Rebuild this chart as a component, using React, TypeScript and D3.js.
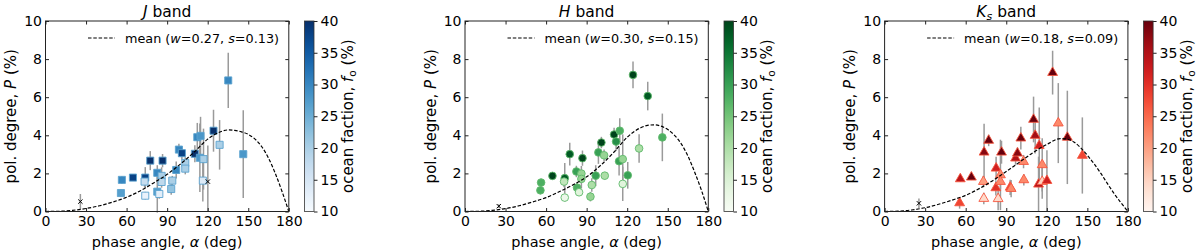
import React, { useEffect, useRef } from "react";
import * as d3 from "d3";

// J band (squares)
const jAngle = [56.5, 55.8, 64.7, 73.8, 73.3, 73.8, 77.5, 82.7, 82.7, 84.2, 85.9, 85.9, 86.6, 93.0, 93.8, 96.7, 98.7, 100.9, 103.4, 103.4, 110.5, 112.3, 114.7, 114.2, 116.9, 116.4, 124.3, 128.8, 135.2, 146.3];
const jPol = [1.66, 0.97, 1.78, 1.78, 1.57, 0.83, 2.67, 2.03, 1.04, 0.92, 1.87, 1.55, 2.67, 1.18, 1.62, 2.18, 3.25, 3.06, 2.55, 2.25, 3.03, 3.9, 3.97, 2.82, 2.75, 1.62, 4.24, 3.5, 6.88, 3.01];
const jErr = [0.2, 0.2, 0.15, 0.55, 0.3, 0.2, 0.5, 0.4, 1.1, 0.25, 0.45, 0.3, 0.35, 0.3, 0.25, 0.45, 0.3, 0.35, 0.3, 0.3, 0.45, 0.75, 1.0, 1.8, 1.6, 1.1, 1.1, 1.3, 1.45, 2.3];
const jOcean = [30, 27, 38, 38, 17, 12, 40, 30, 27, 13, 20, 18, 40, 22, 20, 30, 30, 38, 20, 20, 40, 30, 28, 28, 20, 14, 40, 20, 30, 28];
const jCrossAngle = [25.8, 120.1];
const jCrossPol = [0.52, 1.57];
const jCrossErr = [0.4, 1.9];

// H band (circles)
const hAngle = [56.3, 55.8, 64.7, 73.8, 73.3, 73.8, 77.5, 82.4, 82.9, 84.4, 86.1, 86.1, 86.9, 92.8, 93.8, 96.7, 98.7, 100.9, 102.9, 103.4, 110.3, 111.8, 114.5, 114.0, 116.7, 116.7, 120.4, 124.3, 128.8, 135.2, 146.0];
const hPol = [1.52, 1.11, 1.87, 1.75, 1.57, 0.73, 3.01, 2.1, 1.25, 1.01, 1.99, 1.71, 2.8, 0.78, 1.39, 1.88, 3.1, 3.62, 2.95, 1.88, 4.04, 3.67, 4.24, 2.64, 2.75, 1.45, 1.9, 7.17, 3.31, 6.06, 3.89];
const hErr = [0.2, 0.2, 0.15, 0.8, 0.3, 0.2, 0.6, 0.3, 0.3, 0.2, 0.4, 0.5, 0.4, 0.25, 0.35, 0.55, 0.6, 0.3, 0.3, 0.2, 0.35, 0.5, 0.65, 0.75, 1.3, 0.9, 0.7, 0.7, 0.75, 0.75, 1.25];
const hOcean = [28, 28, 40, 38, 18, 12, 38, 30, 28, 14, 22, 22, 40, 22, 20, 30, 30, 40, 22, 20, 40, 32, 28, 30, 22, 14, 30, 40, 20, 38, 28];
const hCrossAngle = [25.0];
const hCrossPol = [0.28];
const hCrossErr = [0.1];

// Ks band (triangles)
const ksAngle = [56.0, 55.5, 64.2, 73.6, 73.1, 73.4, 77.0, 82.5, 82.3, 84.0, 85.7, 85.7, 86.5, 92.9, 93.6, 96.9, 98.3, 100.8, 102.8, 103.0, 110.2, 111.4, 114.4, 113.9, 116.6, 116.6, 120.1, 124.3, 128.5, 135.2, 146.3];
const ksPol = [1.71, 0.45, 1.8, 3.11, 1.57, 0.68, 3.73, 2.27, 1.24, 0.67, 1.92, 1.57, 3.11, 1.27, 1.2, 2.8, 3.06, 3.85, 2.62, 1.66, 4.83, 3.99, 3.46, 1.43, 2.45, 1.57, 1.62, 7.29, 4.64, 3.89, 2.94];
const ksErr = [0.15, 0.3, 0.15, 1.5, 0.3, 0.3, 0.3, 0.6, 0.4, 0.6, 1.85, 0.4, 0.6, 0.4, 0.45, 0.35, 0.3, 0.6, 0.35, 0.3, 1.2, 0.95, 2.0, 1.45, 1.4, 0.9, 1.6, 1.15, 2.1, 2.45, 2.0];
const ksOcean = [34, 28, 40, 38, 20, 14, 40, 32, 30, 14, 22, 22, 40, 28, 22, 35, 38, 40, 22, 22, 40, 36, 32, 34, 22, 15, 32, 40, 22, 40, 28];
const ksCrossAngle = [25.4];
const ksCrossPol = [0.43];
const ksCrossErr = [0.25];

// mean model curves
const meanAngle = [0, 10, 20, 30, 40, 50, 60, 70, 80, 90, 100, 110, 120, 130, 135, 140, 145, 150, 155, 160, 165, 170, 175, 180];
const jMean = [0, 0.01, 0.06, 0.16, 0.3, 0.5, 0.75, 1.08, 1.5, 1.95, 2.5, 3.12, 3.8, 4.2, 4.28, 4.26, 4.18, 4.05, 3.8, 3.4, 2.8, 2.0, 1.05, 0];
const hMean = [0, 0.01, 0.06, 0.15, 0.3, 0.5, 0.73, 1.05, 1.4, 1.82, 2.4, 3.1, 3.9, 4.4, 4.52, 4.55, 4.48, 4.3, 4.0, 3.55, 2.9, 2.05, 1.1, 0];
const ksMean = [0, 0.02, 0.08, 0.2, 0.38, 0.6, 0.85, 1.2, 1.62, 2.1, 2.6, 3.1, 3.52, 3.83, 3.8, 3.65, 3.35, 2.95, 2.5, 2.0, 1.45, 0.92, 0.45, 0];

const meanW = ["0.27", "0.30", "0.18"];
const meanS = ["0.13", "0.15", "0.09"];

const xTicks = [0, 30, 60, 90, 120, 150, 180];
const yTicks = [0, 2, 4, 6, 8, 10];
const cbTicks = [10, 15, 20, 25, 30, 35, 40];

const FONT = "DejaVu Sans, sans-serif";
const PLOT_W = 243.3;
const PLOT_H = 190.5;
const TOP = 21;
const LEFTS = [45.5, 465, 884.6];

const bands = [
  { key: "j", title: "J", sub: "", angle: jAngle, pol: jPol, err: jErr, ocean: jOcean, cx: jCrossAngle, cy: jCrossPol, ce: jCrossErr, mean: jMean, interp: d3.interpolateBlues, symbol: d3.symbolSquare, size: 50 },
  { key: "h", title: "H", sub: "", angle: hAngle, pol: hPol, err: hErr, ocean: hOcean, cx: hCrossAngle, cy: hCrossPol, ce: hCrossErr, mean: hMean, interp: d3.interpolateGreens, symbol: d3.symbolCircle, size: 46 },
  { key: "ks", title: "K", sub: "s", angle: ksAngle, pol: ksPol, err: ksErr, ocean: ksOcean, cx: ksCrossAngle, cy: ksCrossPol, ce: ksCrossErr, mean: ksMean, interp: d3.interpolateReds, symbol: d3.symbolTriangle, size: 42 },
];

export default function App() {
  const svgRef = useRef<SVGSVGElement>(null);

  useEffect(() => {
    document.body.style.margin = "0";
    const svg = d3.select(svgRef.current);
    svg.selectAll("*").remove();
    const defs = svg.append("defs");

    const x = d3.scaleLinear().domain([0, 180]).range([0, PLOT_W]);
    const y = d3.scaleLinear().domain([0, 10]).range([PLOT_H, 0]);
    const cb = d3.scaleLinear().domain([10, 40]).range([PLOT_H, 0]);

    bands.forEach((b, i) => {
      const color = d3.scaleSequential(b.interp).domain([10, 40]);
      const edge = b.interp(0.55);
      const g = svg.append("g").attr("transform", `translate(${LEFTS[i]},${TOP})`);

      // error bars
      const bars = g.append("g").attr("stroke", "#9a9a9a").attr("stroke-width", 1.5);
      b.angle.forEach((a, k) => {
        bars.append("line")
          .attr("x1", x(a)).attr("x2", x(a))
          .attr("y1", y(b.pol[k] - b.err[k])).attr("y2", y(b.pol[k] + b.err[k]));
      });
      b.cx.forEach((a, k) => {
        bars.append("line")
          .attr("x1", x(a)).attr("x2", x(a))
          .attr("y1", y(Math.max(0, b.cy[k] - b.ce[k]))).attr("y2", y(b.cy[k] + b.ce[k]));
      });

      // markers
      const sym = d3.symbol().type(b.symbol).size(b.size);
      g.append("g").selectAll("path")
        .data(b.angle.map((a, k) => ({ a, p: b.pol[k], o: b.ocean[k] })))
        .join("path")
        .attr("d", sym)
        .attr("transform", (d) => `translate(${x(d.a)},${y(d.p)})`)
        .attr("fill", (d) => color(d.o))
        .attr("stroke", edge)
        .attr("stroke-width", 0.9);

      // crosses
      const cross = d3.symbol().type(d3.symbolX).size(14);
      b.cx.forEach((a, k) => {
        g.append("path")
          .attr("d", cross)
          .attr("transform", `translate(${x(a)},${y(b.cy[k])})`)
          .attr("fill", "none")
          .attr("stroke", "#000")
          .attr("stroke-width", 1);
      });

      // mean curve
      const line = d3.line<number>()
        .x((_, k) => x(meanAngle[k]))
        .y((d) => y(d))
        .curve(d3.curveMonotoneX);
      g.append("path")
        .attr("d", line(b.mean))
        .attr("fill", "none")
        .attr("stroke", "#000")
        .attr("stroke-width", 1.2)
        .attr("stroke-dasharray", "3.5,1.8");

      // axes, ticks inward on all sides
      const styleAxis = (sel: any) => {
        sel.select(".domain").remove();
        sel.selectAll("line").attr("stroke", "#222");
        sel.selectAll("text").attr("font-family", FONT).attr("font-size", 14).attr("fill", "#000");
      };
      g.append("g").attr("transform", `translate(0,${PLOT_H})`)
        .call(d3.axisBottom(x).tickValues(xTicks).tickSize(-3.5).tickPadding(5).tickSizeOuter(0))
        .call(styleAxis);
      g.append("g")
        .call(d3.axisTop(x).tickValues(xTicks).tickSize(-3.5).tickFormat(() => "").tickSizeOuter(0))
        .call(styleAxis);
      g.append("g")
        .call(d3.axisLeft(y).tickValues(yTicks).tickSize(-3.5).tickPadding(3.5).tickSizeOuter(0))
        .call(styleAxis);
      g.append("g").attr("transform", `translate(${PLOT_W},0)`)
        .call(d3.axisRight(y).tickValues(yTicks).tickSize(-3.5).tickFormat(() => "").tickSizeOuter(0))
        .call(styleAxis);

      g.append("rect")
        .attr("width", PLOT_W).attr("height", PLOT_H)
        .attr("fill", "none").attr("stroke", "#222").attr("stroke-width", 1);

      // title
      const title = g.append("text")
        .attr("x", PLOT_W / 2).attr("y", -4.5)
        .attr("text-anchor", "middle")
        .attr("font-family", FONT).attr("font-size", 15.5);
      title.append("tspan").attr("font-style", "italic").text(b.title);
      if (b.sub) {
        title.append("tspan").attr("font-style", "italic").attr("font-size", 11).attr("dy", 3).text(b.sub);
        title.append("tspan").attr("dy", -3).text(" band");
      } else {
        title.append("tspan").text(" band");
      }

      // legend
      g.append("line")
        .attr("x1", 42.5).attr("x2", 69.5).attr("y1", 17).attr("y2", 17)
        .attr("stroke", "#000").attr("stroke-width", 1.2).attr("stroke-dasharray", "3.5,1.8");
      const leg = g.append("text")
        .attr("x", 79.5).attr("y", 21.5)
        .attr("font-family", FONT).attr("font-size", 12.8);
      leg.append("tspan").text("mean (");
      leg.append("tspan").attr("font-style", "italic").text("w");
      leg.append("tspan").text(`=${meanW[i]}, `);
      leg.append("tspan").attr("font-style", "italic").text("s");
      leg.append("tspan").text(`=${meanS[i]})`);

      // axis labels
      g.append("text")
        .attr("x", PLOT_W / 2).attr("y", PLOT_H + 35)
        .attr("text-anchor", "middle")
        .attr("font-family", FONT).attr("font-size", 14.5)
        .call((t) => {
          t.append("tspan").text("phase angle, ");
          t.append("tspan").attr("font-style", "italic").text("α");
          t.append("tspan").text(" (deg)");
        });
      g.append("text")
        .attr("transform", `translate(${-29.5},${PLOT_H / 2}) rotate(-90)`)
        .attr("text-anchor", "middle")
        .attr("font-family", FONT).attr("font-size", 15)
        .call((t) => {
          t.append("tspan").text("pol. degree, ");
          t.append("tspan").attr("font-style", "italic").text("P");
          t.append("tspan").text(" (%)");
        });

      // colorbar
      const gradId = `grad-${b.key}`;
      const grad = defs.append("linearGradient").attr("id", gradId)
        .attr("x1", 0).attr("y1", 1).attr("x2", 0).attr("y2", 0);
      d3.range(0, 1.001, 0.05).forEach((t) => {
        grad.append("stop").attr("offset", t).attr("stop-color", b.interp(t));
      });
      const cbg = g.append("g").attr("transform", `translate(259,0)`);
      cbg.append("rect")
        .attr("width", 9.5).attr("height", PLOT_H)
        .attr("fill", `url(#${gradId})`)
        .attr("stroke", "#333").attr("stroke-width", 0.8);
      cbg.append("g").attr("transform", "translate(9.5,0)")
        .call(d3.axisRight(cb).tickValues(cbTicks).tickSize(3.5).tickPadding(3).tickSizeOuter(0))
        .call(styleAxis);
      cbg.append("text")
        .attr("transform", `translate(48,${PLOT_H / 2}) rotate(-90)`)
        .attr("text-anchor", "middle")
        .attr("font-family", FONT).attr("font-size", 15)
        .call((t) => {
          t.append("tspan").text("ocean faction, ");
          t.append("tspan").attr("font-style", "italic").text("f");
          t.append("tspan").attr("font-size", 10.5).attr("dy", 3).text("o");
          t.append("tspan").attr("dy", -3).text(" (%)");
        });
    });
  }, []);

  return <svg ref={svgRef} width={1200} height={251} style={{ display: "block", background: "#fff" }} />;
}
